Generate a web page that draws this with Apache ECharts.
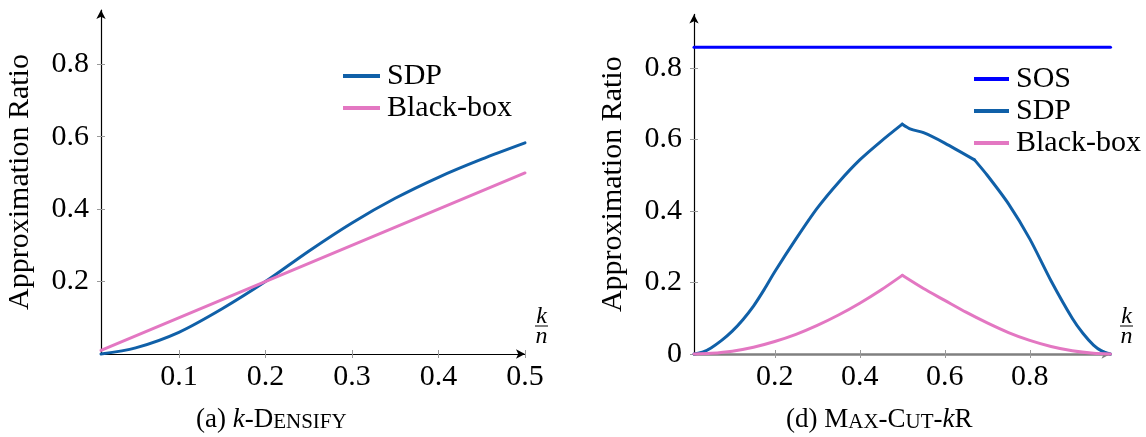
<!DOCTYPE html>
<html>
<head>
<meta charset="utf-8">
<script src="https://cdn.jsdelivr.net/npm/echarts@6/dist/echarts.min.js"></script>
<style>
html,body{margin:0;padding:0;background:#fff;}
#chart{width:1146px;height:437px;}
</style>
</head>
<body>
<div id="chart"></div>
<script>
// ---------- data ----------
// (a) k-Densify
const densifyX = [0.01, 0.05, 0.1, 0.15, 0.2, 0.25, 0.3, 0.35, 0.4, 0.45, 0.5];
const densifySDP = [0, 0.017, 0.06, 0.125, 0.2, 0.284, 0.362, 0.43, 0.488, 0.538, 0.583];
const densifyBBX = [0.01, 0.5];
const densifyBB = [0.01, 0.5];

// (d) Max-Cut-kR
const maxcutX = [0.01, 0.03, 0.05, 0.075, 0.1, 0.125, 0.15, 0.175, 0.2, 0.25, 0.3, 0.35, 0.4, 0.45, 0.5, 0.52, 0.55, 0.6, 0.67, 0.7, 0.75, 0.8, 0.85, 0.9, 0.925, 0.95, 0.97, 0.99];
const maxcutSDP = [0, 0.005, 0.017, 0.038, 0.064, 0.096, 0.134, 0.18, 0.23, 0.322, 0.408, 0.48, 0.543, 0.595, 0.643, 0.629, 0.619, 0.59, 0.543, 0.5, 0.42, 0.322, 0.205, 0.1, 0.058, 0.025, 0.008, 0];
const maxcutBBX = [0.01, 0.05, 0.1, 0.15, 0.2, 0.25, 0.3, 0.35, 0.4, 0.45, 0.5, 0.55, 0.6, 0.65, 0.7, 0.75, 0.8, 0.85, 0.9, 0.95, 0.99];
const maxcutBB = [0, 0.002, 0.008, 0.019, 0.035, 0.055, 0.08, 0.109, 0.142, 0.179, 0.22, 0.183, 0.15, 0.117, 0.087, 0.06, 0.038, 0.021, 0.009, 0.002, 0];
const sosX = [0.01, 0.99];
const sosY = [0.858, 0.858];
// kink locations of the Max-Cut-kR curves (curve pieces are joined there)
const maxcutSDPKinks = [0.5, 0.67];
const maxcutBBKinks = [0.5];

// ticks
const leftXTicks = [0.1, 0.2, 0.3, 0.4, 0.5];
const leftYTicks = [0.2, 0.4, 0.6, 0.8];
const rightXTicks = [0.2, 0.4, 0.6, 0.8];
const rightYTicks = [0, 0.2, 0.4, 0.6, 0.8];

// ---------- chart ----------
const FONT = '"Liberation Serif", "Times New Roman", "DejaVu Serif", serif';
const SDP_COLOR = '#1060a8';
const BB_COLOR = '#e377c2';
const SOS_COLOR = '#0000ff';

function zip(xs, ys) { return xs.map((x, i) => [x, ys[i]]); }
function fmt(v) { return v === 0 ? '0' : v.toFixed(1); }
// split a curve into pieces at the kink x values (kink point shared by both pieces)
function pieces(xs, ys, kinks) {
  const bounds = [xs[0]].concat(kinks, [xs[xs.length - 1]]);
  const out = [];
  for (let b = 0; b < bounds.length - 1; b++) {
    const seg = [];
    xs.forEach((x, i) => { if (x >= bounds[b] - 1e-9 && x <= bounds[b + 1] + 1e-9) seg.push([x, ys[i]]); });
    out.push(seg);
  }
  return out;
}

function mainX(grid, min, max, ticks, lineColor, lineWidth) {
  return {
    type: 'value', gridIndex: grid, min: min, max: max, position: 'bottom',
    axisLine: { show: true, onZero: false, lineStyle: { color: lineColor, width: lineWidth },
      symbol: ['none', 'arrow'], symbolSize: [7, 9] },
    axisTick: { show: true, customValues: ticks, length: 4, lineStyle: { color: '#999', width: 1 } },
    axisLabel: { customValues: ticks, formatter: fmt, fontSize: 30, fontFamily: FONT, color: '#000', margin: 8 },
    splitLine: { show: false }
  };
}
function innerX(grid, min, max, ticks) {
  return {
    type: 'value', gridIndex: grid, min: min, max: max, position: 'bottom',
    axisLine: { show: false, onZero: false },
    axisTick: { show: true, inside: true, customValues: ticks, length: 4, lineStyle: { color: '#999', width: 1 } },
    axisLabel: { show: false }, splitLine: { show: false }
  };
}
function mainY(grid, ticks) {
  return {
    type: 'value', gridIndex: grid, min: 0, max: 0.95, position: 'left',
    name: 'Approximation Ratio', nameLocation: 'middle', nameRotate: 90, nameGap: 66,
    nameTextStyle: { fontSize: 30, fontFamily: FONT, color: '#000' },
    axisLine: { show: true, onZero: false, lineStyle: { color: '#000', width: 1.2 },
      symbol: ['none', 'arrow'], symbolSize: [7, 9] },
    axisTick: { show: true, customValues: ticks, length: 4, lineStyle: { color: '#999', width: 1 } },
    axisLabel: { customValues: ticks, formatter: fmt, fontSize: 30, fontFamily: FONT, color: '#000', margin: 12 },
    splitLine: { show: false }
  };
}
function innerY(grid, ticks) {
  return {
    type: 'value', gridIndex: grid, min: 0, max: 0.95, position: 'left',
    axisLine: { show: false, onZero: false },
    axisTick: { show: true, inside: true, customValues: ticks, length: 4, lineStyle: { color: '#999', width: 1 } },
    axisLabel: { show: false }, splitLine: { show: false }
  };
}

function lineSeries(name, data, xi, yi, color, smooth) {
  return {
    type: 'line', name: name, data: data, xAxisIndex: xi, yAxisIndex: yi,
    symbol: 'none', smooth: smooth, lineStyle: { color: color, width: 3, join: 'round', cap: 'round' },
    itemStyle: { color: color }, animation: false, clip: false
  };
}

const legendText = { fontSize: 30, fontFamily: FONT, color: '#000', lineHeight: 30, padding: [0, 0, 0, 2] };

const capRich = {
  n: { fontSize: 27, fontFamily: FONT, fontWeight: 'normal', color: '#000', verticalAlign: 'bottom', lineHeight: 30 },
  i: { fontSize: 27, fontFamily: FONT, fontWeight: 'normal', fontStyle: 'italic', color: '#000', verticalAlign: 'bottom', lineHeight: 30 },
  s: { fontSize: 21, fontFamily: FONT, fontWeight: 'normal', color: '#000', verticalAlign: 'bottom', lineHeight: 30 }
};

const series = [
  lineSeries('SDP', zip(densifyX, densifySDP), 0, 0, SDP_COLOR, 0.3),
  lineSeries('Black-box', zip(densifyBBX, densifyBB), 0, 0, BB_COLOR, false),
  lineSeries('SOS', zip(sosX, sosY), 2, 2, SOS_COLOR, false)
];
pieces(maxcutX, maxcutSDP, maxcutSDPKinks).forEach(seg => series.push(lineSeries('SDP', seg, 2, 2, SDP_COLOR, 0.25)));
pieces(maxcutBBX, maxcutBB, maxcutBBKinks).forEach(seg => series.push(lineSeries('Black-box', seg, 2, 2, BB_COLOR, 0.25)));

const option = {
  backgroundColor: '#fff',
  animation: false,
  textStyle: { fontFamily: FONT },
  grid: [
    { left: 101, top: 10, width: 424, bottom: 83, containLabel: false },
    { left: 694, top: 14.4, width: 416.5, bottom: 83, containLabel: false }
  ],
  xAxis: [
    mainX(0, 0.01, 0.5, leftXTicks, '#000', 1.2),
    innerX(0, 0.01, 0.5, leftXTicks),
    mainX(1, 0.01, 0.99, rightXTicks, '#808080', 2.5),
    innerX(1, 0.01, 0.99, rightXTicks)
  ],
  yAxis: [
    mainY(0, leftYTicks),
    innerY(0, leftYTicks),
    mainY(1, rightYTicks),
    innerY(1, rightYTicks)
  ],
  legend: [
    { data: ['SDP', 'Black-box'], orient: 'vertical', left: 343, top: 61, padding: 0, icon: 'rect',
      itemWidth: 37, itemHeight: 4, itemGap: 2, textStyle: legendText, selectedMode: false },
    { data: ['SOS', 'SDP', 'Black-box'], orient: 'vertical', left: 974, top: 64, padding: 0, icon: 'rect',
      itemWidth: 35, itemHeight: 4, itemGap: 2, textStyle: legendText, selectedMode: false }
  ],
  title: [
    { left: 196, top: 403, padding: 0,
      text: '{n|(a) }{i|k}{n|-D}{s|ENSIFY}',
      textStyle: { fontWeight: 'normal', rich: capRich } },
    { left: 786, top: 403, padding: 0,
      text: '{n|(d) M}{s|AX}{n|-C}{s|UT}{n|-}{i|k}{n|R}',
      textStyle: { fontWeight: 'normal', rich: capRich } }
  ],
  graphic: [
    { type: 'text', style: { text: 'k', x: 541.5, y: 316.5, align: 'center', verticalAlign: 'middle', fontSize: 24, fontFamily: FONT, fontStyle: 'italic', fill: '#000' } },
    { type: 'line', shape: { x1: 535, y1: 326, x2: 548, y2: 326 }, style: { stroke: '#000', lineWidth: 1 } },
    { type: 'text', style: { text: 'n', x: 541.5, y: 336.5, align: 'center', verticalAlign: 'middle', fontSize: 24, fontFamily: FONT, fontStyle: 'italic', fill: '#000' } },
    { type: 'text', style: { text: 'k', x: 1126.5, y: 316.5, align: 'center', verticalAlign: 'middle', fontSize: 24, fontFamily: FONT, fontStyle: 'italic', fill: '#000' } },
    { type: 'line', shape: { x1: 1120, y1: 326, x2: 1133, y2: 326 }, style: { stroke: '#000', lineWidth: 1 } },
    { type: 'text', style: { text: 'n', x: 1126.5, y: 336.5, align: 'center', verticalAlign: 'middle', fontSize: 24, fontFamily: FONT, fontStyle: 'italic', fill: '#000' } }
  ],
  series: series
};

const chart = echarts.init(document.getElementById('chart'), null, { renderer: 'canvas' });
chart.setOption(option);
</script>
</body>
</html>
